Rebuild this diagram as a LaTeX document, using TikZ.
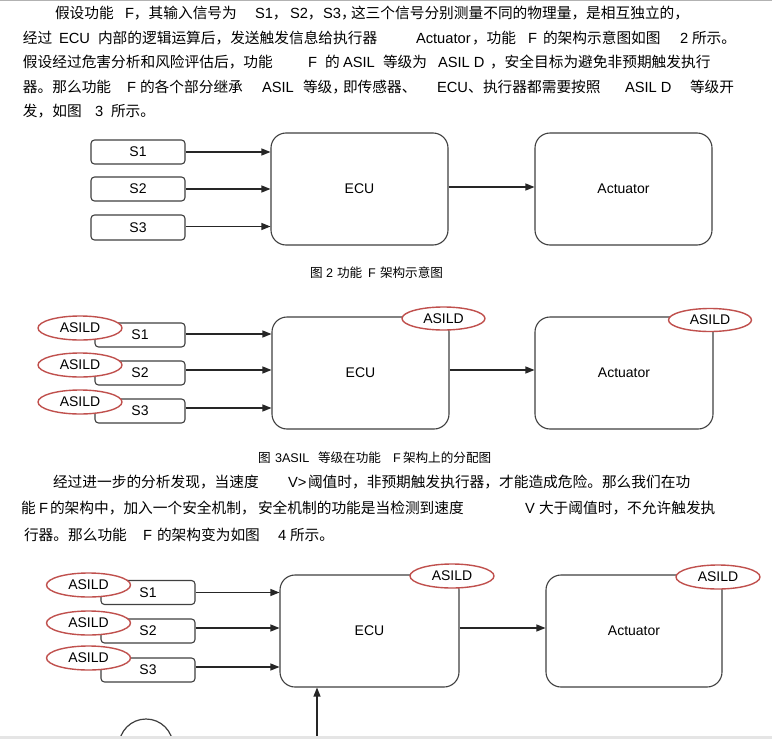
\documentclass[tikz,border=0pt]{standalone}
\usepackage{fontspec}
\setmainfont{Liberation Sans}
\newfontfamily\cjk{Noto Sans CJK SC}
\usetikzlibrary{arrows.meta,shapes.geometric}
\definecolor{lineclr}{HTML}{404040}
\definecolor{asred}{HTML}{C0504D}
\begin{document}
\begin{tikzpicture}[x=1pt,y=-1pt,
  txt/.style={anchor=base west, inner sep=0pt, outer sep=0pt, font=\fontsize{14.7}{16}\selectfont},
  captxt/.style={anchor=base west, inner sep=0pt, outer sep=0pt, font=\fontsize{12.6}{13}\selectfont},
  sbox/.style={draw=lineclr, line width=1.1pt, rounded corners=3.5pt, fill=white, inner sep=0pt, font=\fontsize{14}{15}\selectfont},
  bigbox/.style={draw=lineclr, line width=1.1pt, rounded corners=15pt, fill=white, inner sep=0pt, font=\fontsize{14}{15}\selectfont},
  asil/.style={ellipse, draw=asred, line width=1.4pt, fill=white, inner sep=0pt, minimum width=84pt, minimum height=24pt, font=\fontsize{14}{15}\selectfont},
  arr/.style={draw=black!85, line width=1.2pt, -{Triangle[length=9pt,width=7pt]}}]
\useasboundingbox (0,0) rectangle (772,739);
\fill[white] (0,0) rectangle (772,739);
\draw[black!30, line width=0.8pt] (0,0.5) -- (772,0.5);

% ---------- paragraph 1 ----------
\node[txt] (p1a) at (55,18) {\cjk 假设功能};
\node[txt] (p1b) at (125,18) {F\cjk ，其输入信号为};
\node[txt] (p1c) at (255,18) {S1\cjk ，};
\node[txt] (p1d) at (290,18) {S2\cjk ，};
\node[txt] (p1e) at (323,18) {S3};
\node[txt] (p1f) at (341,18) {\cjk ，};
\node[txt] (p1g) at (351,18) {\cjk 这三个信号分别测量不同的物理量，是相互独立的，};

\node[txt] (p2a) at (23,43) {\cjk 经过};
\node[txt] (p2b) at (59,43) {ECU};
\node[txt] (p2c) at (98,43) {\cjk 内部的逻辑运算后，发送触发信息给执行器};
\node[txt] (p2d) at (416,43) {Actuator};
\node[txt] (p2e) at (472,43) {\cjk ，功能};
\node[txt] (p2f) at (528,43) {F};
\node[txt] (p2g) at (543,43) {\cjk 的架构示意图如图};
\node[txt] (p2h) at (680,43) {2};
\node[txt] (p2i) at (692,43) {\cjk 所示。};

\node[txt] (p3a) at (23,67) {\cjk 假设经过危害分析和风险评估后，功能};
\node[txt] (p3b) at (308,67) {F};
\node[txt] (p3c) at (325,67) {\cjk 的};
\node[txt] (p3d) at (343,67) {ASIL};
\node[txt] (p3e) at (383,67) {\cjk 等级为};
\node[txt] (p3f) at (438,67) {ASIL D};
\node[txt] (p3g) at (490,67) {\cjk ，安全目标为避免非预期触发执行};

\node[txt] (p4a) at (23,92) {\cjk 器。那么功能};
\node[txt] (p4b) at (127,92) {F};
\node[txt] (p4c) at (140,92) {\cjk 的各个部分继承};
\node[txt] (p4d) at (262,92) {ASIL};
\node[txt] (p4e) at (303,92) {\cjk 等级，};
\node[txt] (p4f) at (343,92) {\cjk 即传感器、};
\node[txt] (p4g) at (437,92) {ECU\cjk 、};
\node[txt] (p4h) at (483,92) {\cjk 执行器都需要按照};
\node[txt] (p4i) at (625,92) {ASIL D};
\node[txt] (p4j) at (690,92) {\cjk 等级开};

\node[txt] (p5a) at (23,116) {\cjk 发，如图};
\node[txt] (p5b) at (95,116) {3};
\node[txt] (p5c) at (111,116) {\cjk 所示。};

% ---------- figure 2 ----------
\node[sbox, minimum width=94pt, minimum height=24pt] (f2s1) at (138,152) {S1};
\node[sbox, minimum width=94pt, minimum height=24pt] (f2s2) at (138,189) {S2};
\node[sbox, minimum width=94pt, minimum height=25pt] (f2s3) at (138,227.5) {S3};
\node[bigbox, minimum width=177pt, minimum height=112pt] (f2ecu) at (359.5,189) {ECU};
\node[bigbox, minimum width=177pt, minimum height=112pt] (f2act) at (623.5,189) {Actuator};
\draw[arr] (f2s1.east) -- (f2s1.east -| f2ecu.west);
\draw[arr] (f2s2.east) -- (f2s2.east -| f2ecu.west);
\draw[arr] ([yshift=1pt]f2s3.east) -- ([yshift=1pt]f2s3.east -| f2ecu.west);
\draw[arr] ([yshift=2pt]f2ecu.east) -- ([yshift=2pt]f2ecu.east -| f2act.west);
\node[captxt] (c2a) at (310,277) {\cjk 图};
\node[captxt] (c2b) at (326,277) {2};
\node[captxt] (c2c) at (337,277) {\cjk 功能};
\node[captxt] (c2d) at (368,277) {F};
\node[captxt] (c2e) at (380,277) {\cjk 架构示意图};

% ---------- figure 3 ----------
\node[sbox, minimum width=90pt, minimum height=24pt] (f3s1) at (140,335) {\raisebox{-3pt}{S1}};
\node[sbox, minimum width=90pt, minimum height=24pt] (f3s2) at (140,373) {\raisebox{-3pt}{S2}};
\node[sbox, minimum width=90pt, minimum height=24pt] (f3s3) at (140,411) {\raisebox{-1pt}{S3}};
\node[asil] (f3e1) at (80,328) {ASILD};
\node[asil] (f3e2) at (80,365) {ASILD};
\node[asil] (f3e3) at (80,402) {ASILD};
\node[bigbox, minimum width=177pt, minimum height=112pt] (f3ecu) at (360.5,373) {ECU};
\node[bigbox, minimum width=178pt, minimum height=112pt] (f3act) at (624,373) {Actuator};
\node[asil, minimum width=83pt, minimum height=23pt] (f3e4) at (443.5,318.5) {ASILD};
\node[asil, minimum width=83pt, minimum height=23pt] (f3e5) at (710,320) {ASILD};
\draw[arr] ([yshift=1pt]f3s1.east) -- ([yshift=1pt]f3s1.east -| f3ecu.west);
\draw[arr] ([yshift=3pt]f3s2.east) -- ([yshift=3pt]f3s2.east -| f3ecu.west);
\draw[arr] ([yshift=3pt]f3s3.east) -- ([yshift=3pt]f3s3.east -| f3ecu.west);
\draw[arr] ([yshift=3pt]f3ecu.east) -- ([yshift=3pt]f3ecu.east -| f3act.west);
\node[captxt] (c3a) at (258,462) {\cjk 图};
\node[captxt] (c3b) at (275,462) {3ASIL};
\node[captxt] (c3c) at (318,462) {\cjk 等级在功能};
\node[captxt] (c3d) at (393,462) {F};
\node[captxt] (c3e) at (403,462) {\cjk 架构上的分配图};

% ---------- paragraph 2 ----------
\node[txt] (q1a) at (53,487) {\cjk 经过进一步的分析发现，当速度};
\node[txt] (q1b) at (288,487) {V>};
\node[txt] (q1c) at (308,487) {\cjk 阈值时，非预期触发执行器，才能造成危险。那么我们在功};

\node[txt] (q2a) at (21,513.5) {\cjk 能};
\node[txt] (q2b) at (39,513.5) {F};
\node[txt] (q2c) at (50,513.5) {\cjk 的架构中，加入一个安全机制，};
\node[txt] (q2d) at (258,513.5) {\cjk 安全机制的功能是当检测到速度};
\node[txt] (q2e) at (525,513.5) {V};
\node[txt] (q2f) at (539,513.5) {\cjk 大于阈值时，不允许触发执};

\node[txt] (q3a) at (24,540) {\cjk 行器。那么功能};
\node[txt] (q3b) at (143,540) {F};
\node[txt] (q3c) at (157,540) {\cjk 的架构变为如图};
\node[txt] (q3d) at (278,540) {4};
\node[txt] (q3e) at (290,540) {\cjk 所示。};

% ---------- figure 4 ----------
\node[sbox, minimum width=94pt, minimum height=24pt] (f4s1) at (148,592.5) {\raisebox{-3pt}{S1}};
\node[sbox, minimum width=94pt, minimum height=24pt] (f4s2) at (148,631) {\raisebox{-3pt}{S2}};
\node[sbox, minimum width=94pt, minimum height=24pt] (f4s3) at (148,670) {\raisebox{-1pt}{S3}};
\node[asil] (f4e1) at (88.5,585) {ASILD};
\node[asil] (f4e2) at (88.5,623) {ASILD};
\node[asil] (f4e3) at (88.5,658) {ASILD};
\node[bigbox, minimum width=179pt, minimum height=112pt] (f4ecu) at (369.5,631) {ECU};
\node[bigbox, minimum width=176pt, minimum height=112pt] (f4act) at (634,631) {Actuator};
\node[asil] (f4e4) at (452,576) {ASILD};
\node[asil] (f4e5) at (718,577) {ASILD};
\draw[arr] (f4s1.east) -- (f4s1.east -| f4ecu.west);
\draw[arr] ([yshift=3pt]f4s2.east) -- ([yshift=3pt]f4s2.east -| f4ecu.west);
\draw[arr] ([yshift=3pt]f4s3.east) -- ([yshift=3pt]f4s3.east -| f4ecu.west);
\draw[arr] ([yshift=3pt]f4ecu.east) -- ([yshift=3pt]f4ecu.east -| f4act.west);
\coordinate (src) at (317,739);
\draw[arr] (src) -- (src |- f4ecu.south);
\node[circle, draw=lineclr, line width=1.2pt, minimum size=54pt, inner sep=0pt] (f4c) at (146,746) {};

% page edge strip
\fill[black!10] (0,735.5) rectangle (772,739);
\end{tikzpicture}
\end{document}
